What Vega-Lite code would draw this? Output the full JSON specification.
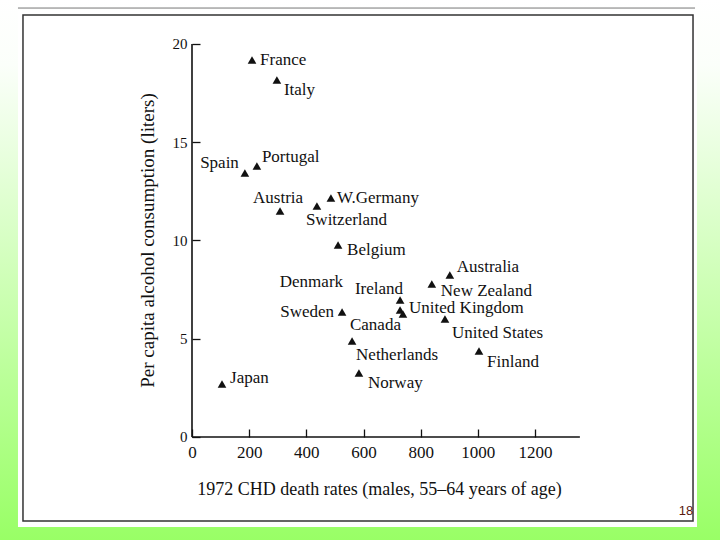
{
  "$schema": "https://vega.github.io/schema/vega-lite/v6.json",
  "width": 720,
  "height": 540,
  "padding": 0,
  "autosize": {"type": "none"},
  "background": "white",
  "config": {
    "view": {"stroke": null},
    "text": {"font": "Liberation Serif", "fontSize": 17, "color": "#111", "baseline": "middle", "align": "left"},
    "axis": {
      "labelFont": "Liberation Serif",
      "titleFont": "Liberation Serif",
      "titleFontWeight": "normal",
      "labelColor": "#111",
      "titleColor": "#111",
      "tickColor": "#111",
      "grid": false,
      "domain": false
    }
  },
  "datasets": {
    "countries": [
      {"country": "France", "chd": 210, "alcohol": 19.19},
      {"country": "Italy", "chd": 297, "alcohol": 18.17},
      {"country": "Spain", "chd": 185, "alcohol": 13.44},
      {"country": "Portugal", "chd": 227, "alcohol": 13.79},
      {"country": "Austria", "chd": 308, "alcohol": 11.5},
      {"country": "Switzerland", "chd": 437, "alcohol": 11.76},
      {"country": "W.Germany", "chd": 486, "alcohol": 12.16},
      {"country": "Belgium", "chd": 511, "alcohol": 9.77},
      {"country": "Australia", "chd": 902, "alcohol": 8.24},
      {"country": "New Zealand", "chd": 839, "alcohol": 7.79},
      {"country": "Denmark", "chd": 553, "alcohol": 7.84},
      {"country": "Ireland", "chd": 728, "alcohol": 6.97},
      {"country": "United Kingdom", "chd": 728, "alcohol": 6.46},
      {"country": "Canada", "chd": 738, "alcohol": 6.26},
      {"country": "Sweden", "chd": 525, "alcohol": 6.36},
      {"country": "Netherlands", "chd": 560, "alcohol": 4.89},
      {"country": "Norway", "chd": 584, "alcohol": 3.26},
      {"country": "United States", "chd": 885, "alcohol": 6.01},
      {"country": "Finland", "chd": 1004, "alcohol": 4.38},
      {"country": "Japan", "chd": 105, "alcohol": 2.7}
    ],
    "one": [{}]
  },
  "data": {"name": "countries"},
  "layer": [
    {
      "data": {"name": "one"},
      "mark": {"type": "rect", "fill": {"gradient": "linear", "x1": 0, "y1": 0, "x2": 0, "y2": 1, "stops": [{"offset": 0, "color": "#ffffff"}, {"offset": 0.12, "color": "#fbfffa"}, {"offset": 1, "color": "#99ff66"}]}},
      "encoding": {}
    },
    {
      "data": {"name": "one"},
      "mark": {"type": "rect", "fill": "white"},
      "encoding": {
        "x": {"datum": -608.8, "type": "quantitative", "scale": {"domain": [-671.7, 1847.2], "nice": false, "zero": false}},
        "x2": {"datum": 1766.8},
        "y": {"datum": 21.68, "type": "quantitative", "scale": {"domain": [-5.242, 22.239], "nice": false, "zero": false}},
        "y2": {"datum": -4.58}
      }
    },
    {
      "data": {"name": "one"},
      "mark": {"type": "rect", "fill": "white", "stroke": "#333", "strokeWidth": 1.5},
      "encoding": {
        "x": {"datum": -591.3, "type": "quantitative"},
        "x2": {"datum": 1752.8},
        "y": {"datum": 21.48, "type": "quantitative"},
        "y2": {"datum": -4.27}
      }
    },
    {
      "data": {"name": "one"},
      "mark": {"type": "rule", "stroke": "#777", "strokeWidth": 1},
      "encoding": {
        "x": {"datum": -608.8, "type": "quantitative"},
        "x2": {"datum": 1759.8},
        "y": {"datum": 21.83, "type": "quantitative"}
      }
    },
    {
      "data": {"name": "one"},
      "mark": {"type": "rule", "stroke": "#111", "strokeWidth": 1.6},
      "encoding": {
        "x": {"datum": 0, "type": "quantitative"},
        "y": {"datum": 0, "type": "quantitative"},
        "y2": {"datum": 20}
      }
    },
    {
      "data": {"name": "one"},
      "mark": {"type": "rule", "stroke": "#111", "strokeWidth": 1.6},
      "encoding": {
        "x": {"datum": 0, "type": "quantitative"},
        "x2": {"datum": 1357},
        "y": {"datum": 0, "type": "quantitative"}
      }
    },
    {
      "transform": [{"filter": "datum.country != 'Denmark'"}],
      "mark": {"type": "point", "shape": "triangle-up", "filled": true, "color": "#111", "size": 75, "opacity": 1},
      "encoding": {
        "x": {
          "field": "chd", "type": "quantitative",
          "scale": {"domain": [-671.7, 1847.2], "nice": false, "zero": false},
          "axis": {
            "zindex": 2,
            "orient": "bottom", "offset": -103, "values": [0, 200, 400, 600, 800, 1000, 1200], "format": "d",
            "tickSize": -8, "tickWidth": 1.3, "labelFontSize": 17, "labelPadding": 15,
            "title": "1972 CHD death rates (males, 55–64 years of age)", "titleFontSize": 18, "titlePadding": 20, "titleX": 379
          }
        },
        "y": {
          "field": "alcohol", "type": "quantitative",
          "scale": {"domain": [-5.242, 22.239], "nice": false, "zero": false},
          "axis": {
            "zindex": 2,
            "orient": "left", "offset": -192, "values": [0, 5, 10, 15, 20], "format": "d",
            "tickSize": -8, "tickWidth": 1.3, "labelFontSize": 15, "labelPadding": 13,
            "title": "Per capita alcohol consumption (liters)", "titleFontSize": 19, "titlePadding": 15, "titleY": 240
          }
        }
      }
    },
    {"transform": [{"filter": "datum.country == 'France'"}], "mark": {"type": "text", "dx": 8, "dy": 0}, "encoding": {"x": {"field": "chd", "type": "quantitative"}, "y": {"field": "alcohol", "type": "quantitative"}, "text": {"field": "country"}}},
    {"transform": [{"filter": "datum.country == 'Italy'"}], "mark": {"type": "text", "dx": 7, "dy": 10}, "encoding": {"x": {"field": "chd", "type": "quantitative"}, "y": {"field": "alcohol", "type": "quantitative"}, "text": {"field": "country"}}},
    {"transform": [{"filter": "datum.country == 'Spain'"}], "mark": {"type": "text", "align": "right", "dx": -6, "dy": -10}, "encoding": {"x": {"field": "chd", "type": "quantitative"}, "y": {"field": "alcohol", "type": "quantitative"}, "text": {"field": "country"}}},
    {"transform": [{"filter": "datum.country == 'Portugal'"}], "mark": {"type": "text", "dx": 5, "dy": -9}, "encoding": {"x": {"field": "chd", "type": "quantitative"}, "y": {"field": "alcohol", "type": "quantitative"}, "text": {"field": "country"}}},
    {"transform": [{"filter": "datum.country == 'Austria'"}], "mark": {"type": "text", "align": "center", "dx": -2, "dy": -13}, "encoding": {"x": {"field": "chd", "type": "quantitative"}, "y": {"field": "alcohol", "type": "quantitative"}, "text": {"field": "country"}}},
    {"transform": [{"filter": "datum.country == 'Switzerland'"}], "mark": {"type": "text", "dx": -11, "dy": 14}, "encoding": {"x": {"field": "chd", "type": "quantitative"}, "y": {"field": "alcohol", "type": "quantitative"}, "text": {"field": "country"}}},
    {"transform": [{"filter": "datum.country == 'W.Germany'"}], "mark": {"type": "text", "dx": 6, "dy": 0}, "encoding": {"x": {"field": "chd", "type": "quantitative"}, "y": {"field": "alcohol", "type": "quantitative"}, "text": {"field": "country"}}},
    {"transform": [{"filter": "datum.country == 'Belgium'"}], "mark": {"type": "text", "dx": 9, "dy": 5}, "encoding": {"x": {"field": "chd", "type": "quantitative"}, "y": {"field": "alcohol", "type": "quantitative"}, "text": {"field": "country"}}},
    {"transform": [{"filter": "datum.country == 'Australia'"}], "mark": {"type": "text", "dx": 7, "dy": -8}, "encoding": {"x": {"field": "chd", "type": "quantitative"}, "y": {"field": "alcohol", "type": "quantitative"}, "text": {"field": "country"}}},
    {"transform": [{"filter": "datum.country == 'New Zealand'"}], "mark": {"type": "text", "dx": 9, "dy": 7}, "encoding": {"x": {"field": "chd", "type": "quantitative"}, "y": {"field": "alcohol", "type": "quantitative"}, "text": {"field": "country"}}},
    {"transform": [{"filter": "datum.country == 'Denmark'"}], "mark": {"type": "text", "align": "right", "dx": -7, "dy": -1}, "encoding": {"x": {"field": "chd", "type": "quantitative"}, "y": {"field": "alcohol", "type": "quantitative"}, "text": {"field": "country"}}},
    {"transform": [{"filter": "datum.country == 'Ireland'"}], "mark": {"type": "text", "align": "right", "dx": 3, "dy": -11}, "encoding": {"x": {"field": "chd", "type": "quantitative"}, "y": {"field": "alcohol", "type": "quantitative"}, "text": {"field": "country"}}},
    {"transform": [{"filter": "datum.country == 'United Kingdom'"}], "mark": {"type": "text", "dx": 9, "dy": -2}, "encoding": {"x": {"field": "chd", "type": "quantitative"}, "y": {"field": "alcohol", "type": "quantitative"}, "text": {"field": "country"}}},
    {"transform": [{"filter": "datum.country == 'Canada'"}], "mark": {"type": "text", "align": "right", "dx": -2, "dy": 11}, "encoding": {"x": {"field": "chd", "type": "quantitative"}, "y": {"field": "alcohol", "type": "quantitative"}, "text": {"field": "country"}}},
    {"transform": [{"filter": "datum.country == 'Sweden'"}], "mark": {"type": "text", "align": "right", "dx": -8, "dy": 0}, "encoding": {"x": {"field": "chd", "type": "quantitative"}, "y": {"field": "alcohol", "type": "quantitative"}, "text": {"field": "country"}}},
    {"transform": [{"filter": "datum.country == 'Netherlands'"}], "mark": {"type": "text", "dx": 4, "dy": 14}, "encoding": {"x": {"field": "chd", "type": "quantitative"}, "y": {"field": "alcohol", "type": "quantitative"}, "text": {"field": "country"}}},
    {"transform": [{"filter": "datum.country == 'Norway'"}], "mark": {"type": "text", "dx": 9, "dy": 10}, "encoding": {"x": {"field": "chd", "type": "quantitative"}, "y": {"field": "alcohol", "type": "quantitative"}, "text": {"field": "country"}}},
    {"transform": [{"filter": "datum.country == 'United States'"}], "mark": {"type": "text", "dx": 7, "dy": 14}, "encoding": {"x": {"field": "chd", "type": "quantitative"}, "y": {"field": "alcohol", "type": "quantitative"}, "text": {"field": "country"}}},
    {"transform": [{"filter": "datum.country == 'Finland'"}], "mark": {"type": "text", "dx": 8, "dy": 11}, "encoding": {"x": {"field": "chd", "type": "quantitative"}, "y": {"field": "alcohol", "type": "quantitative"}, "text": {"field": "country"}}},
    {"transform": [{"filter": "datum.country == 'Japan'"}], "mark": {"type": "text", "dx": 8, "dy": -6}, "encoding": {"x": {"field": "chd", "type": "quantitative"}, "y": {"field": "alcohol", "type": "quantitative"}, "text": {"field": "country"}}},
    {
      "data": {"name": "one"},
      "mark": {"type": "text", "text": "18", "font": "Liberation Sans", "fontSize": 13, "color": "#5a1a10", "align": "center"},
      "encoding": {
        "x": {"datum": 1728, "type": "quantitative"},
        "y": {"datum": -3.77, "type": "quantitative"}
      }
    }
  ]
}
